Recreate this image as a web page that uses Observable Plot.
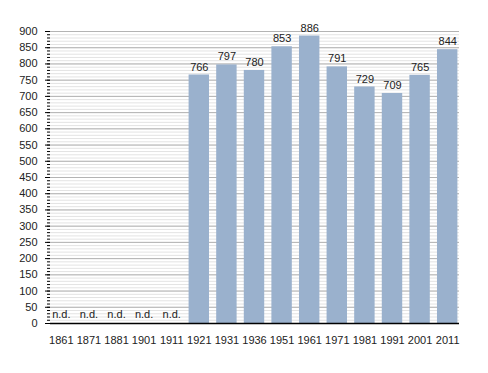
<!DOCTYPE html>
<html><head><meta charset="utf-8">
<script src="https://cdn.jsdelivr.net/npm/d3@7"></script>
<script src="https://cdn.jsdelivr.net/npm/@observablehq/plot@0.6"></script>
<style>body{margin:0;background:#fff}svg{display:block}</style>
</head><body><div id="c"></div>
<script>
const years = ["1861","1871","1881","1901","1911","1921","1931","1936","1951","1961","1971","1981","1991","2001","2011"];
const values = [null,null,null,null,null,766,797,780,853,886,791,729,709,765,844];
const yTicks = [0,50,100,150,200,250,300,350,400,450,500,550,600,650,700,750,800,850,900];
const minorTicks = d3.range(0, 901, 10);

const data = years.map((y,i)=>({year:y, value:values[i]}));
const present = data.filter(d=>d.value!=null);
const missing = data.filter(d=>d.value==null);

const chart = Plot.plot({
  width: 488, height: 373,
  marginLeft: 50, marginRight: 29, marginTop: 31, marginBottom: 50,
  style: {fontFamily: "Liberation Sans, Arial, sans-serif", fontSize: "11px", color: "#222"},
  x: {domain: years, range: [50.6, 457.4], paddingInner: 0.26, paddingOuter: 0, round: false, label: null},
  y: {domain: [0,900], label: null},
  marks: [
    Plot.ruleY(minorTicks, {stroke: "#e3e3e3", strokeWidth: 1}),
    Plot.ruleY(yTicks, {stroke: "#b3b3b3", strokeWidth: 1}),
    Plot.barY(present, {x: "year", y: "value", fill: "#9ab1cd"}),
    Plot.text(present, {x: "year", y: "value", text: d=>String(d.value), dy: -8, fill: "#222", fontSize: 11}),
    Plot.text(missing, {x: "year", y: 0, text: ()=>"n.d.", dy: -9, fill: "#222", fontSize: 11}),
    Plot.axisY({ticks: yTicks, tickSize: 5, tickPadding: 8, stroke: "#000", fill: "#222", fontSize: 11}),
    Plot.axisY({ticks: minorTicks, tickSize: 3, tickFormat: () => "", stroke: "#000"}),
    Plot.ruleX([0], {frameAnchor: "left", stroke: "#000", strokeWidth: 1.5}),
    Plot.ruleY([0], {stroke: "#000", strokeWidth: 1.5}),
    Plot.axisX({tickSize: 0, tickPadding: 13, fill: "#222", fontSize: 11})
  ]
});
document.getElementById("c").appendChild(chart);
</script></body></html>
